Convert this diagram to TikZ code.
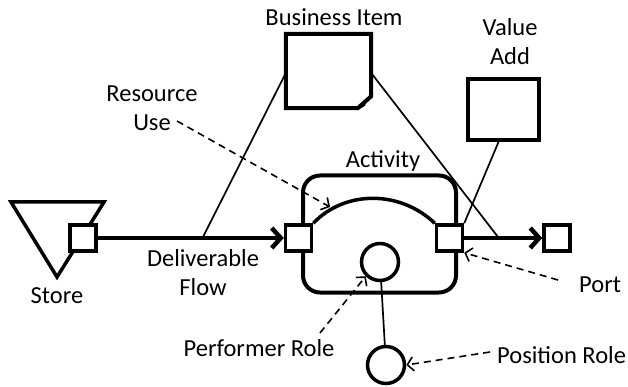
\documentclass[tikz,border=0pt]{standalone}
\usepackage{fontspec}
\setmainfont{Carlito}
\usetikzlibrary{arrows.meta}
\begin{document}
\begin{tikzpicture}[x=1pt,y=-1pt,
  lbl/.style={font=\fontsize{24.5}{30}\selectfont, inner sep=0pt, align=center},
  portbox/.style={draw, fill=white, line width=3.5pt, minimum width=26pt, minimum height=26pt, inner sep=0pt},
  flow/.style={line width=4.5pt, -{Straight Barb[length=9pt,width=20pt,line width=4.5pt]}},
  thin/.style={line width=1.7pt},
  note/.style={line width=1.6pt, dash pattern=on 7pt off 5pt, -{Straight Barb[length=6pt,width=14pt,line width=1.6pt]}},
  box/.style={line width=4pt},
  role/.style={draw, circle, line width=3.5pt, minimum size=37pt, inner sep=0pt, fill=white}]
\useasboundingbox (0,0) rectangle (628,387);
% Store
\coordinate (s1) at (11,202);
\coordinate (s2) at (104,202);
\coordinate (s3) at (57,277);
\draw[line width=3.5pt, line join=miter] (s1) -- (s2) -- (s3) -- cycle;
\node[portbox] (sp) at (83,238) {};
\node[lbl] (storel) at (57,296) {Store};
% Activity
\node[draw, rounded corners=17pt, line width=4pt, minimum width=153pt, minimum height=117pt, inner sep=0pt] (act) at (379.5,234) {};
\node[lbl] (actl) at (383,161) {Activity};
\node[portbox] (lp) at (298.5,238) {};
\node[portbox] (rp) at (449.5,238) {};
\node[portbox] (ep) at (557,238) {};
\draw[line width=3.5pt] (lp.north east) .. controls (345,190) and (400,190) .. (rp.north west);
\node[role] (pr) at (380,262) {};
\node[role] (pos) at (386,365) {};
\draw[thin] (pr) -- (pos);
% Flows
\draw[flow] (sp) -- (lp);
\draw[flow] (rp) -- (ep);
\coordinate (f1) at (203,237);
\coordinate (f2) at (498,237);
% Business item
\node[minimum width=85pt, minimum height=74pt, inner sep=0pt] (bi) at (328.5,71) {};
\draw[box, line join=miter] (bi.south east) ++(0,-12) -- (bi.north east) -- (bi.north west) -- (bi.south west) -- ++(72,0) -- cycle;
\draw[line width=1.8pt] (bi.south east) ++(0,-12) -- ++(-5,4) -- ++(-2,5) -- ++(-5,3);
\node[lbl] (bil) at (334,17) {Business Item};
\draw[thin] (bi.west) ++(0,2) -- (f1);
\draw[thin] (bi.east) ++(0,2) -- (f2);
% Value add
\node[draw, box, minimum width=71pt, minimum height=61pt, inner sep=0pt] (va) at (503.5,109.5) {};
\node[lbl] (val) at (510,42) {Value\\[-1pt]Add};
\draw[thin] (va.south) ++(-5,0) -- (rp.north east);
% Labels with dashed pointers
\node[lbl] (rul) at (152,108) {Resource\\[-1pt]Use};
\coordinate (ru1) at (177,121);
\draw[note] (ru1) -- (330,207);
\node[lbl] (dfl) at (203,273) {Deliverable\\[-1pt]Flow};
\node[lbl, anchor=west] (portl) at (579,285) {Port};
\coordinate (pt1) at (558,280);
\draw[note] (pt1) -- (rp.south east);
\node[lbl] (perl) at (259,348) {Performer Role};
\coordinate (pe1) at (320,333);
\draw[note] (pe1) -- (pr.south west);
\node[lbl, anchor=west] (posl) at (497,355) {Position Role};
\coordinate (po1) at (490,352);
\draw[note] (po1) -- (pos.east);
\end{tikzpicture}
\end{document}
